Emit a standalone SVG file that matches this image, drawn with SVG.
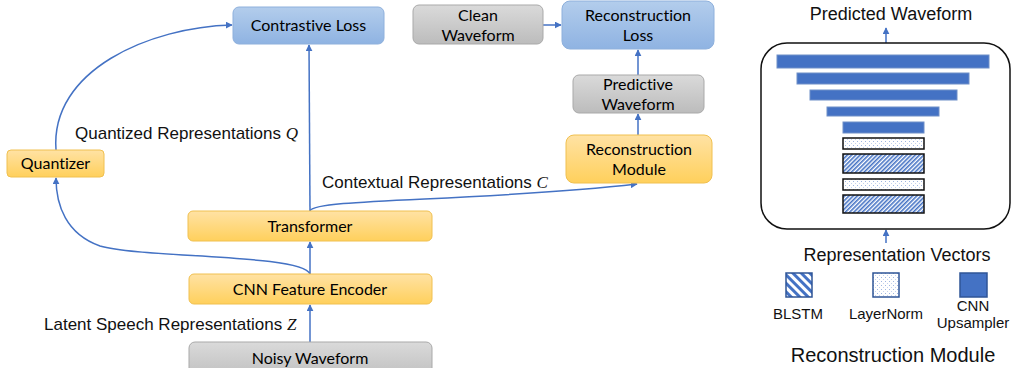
<svg xmlns="http://www.w3.org/2000/svg" width="1011" height="368" viewBox="0 0 1011 368">
<defs>
<linearGradient id="gBlue" x1="0" y1="0" x2="0" y2="1"><stop offset="0" stop-color="#b3cdec"/><stop offset="1" stop-color="#8fb3e2"/></linearGradient>
<linearGradient id="gGray" x1="0" y1="0" x2="0" y2="1"><stop offset="0" stop-color="#dadada"/><stop offset="1" stop-color="#bcbcbc"/></linearGradient>
<linearGradient id="gOrange" x1="0" y1="0" x2="0" y2="1"><stop offset="0" stop-color="#ffe2a4"/><stop offset="1" stop-color="#ffd05c"/></linearGradient>
<pattern id="hatchFine" patternUnits="userSpaceOnUse" width="3" height="3" patternTransform="rotate(45)"><rect width="3" height="3" fill="#ffffff"/><rect width="1.6" height="3" fill="#4472c4"/></pattern>
<pattern id="hatchWide" patternUnits="userSpaceOnUse" width="6" height="6" patternTransform="rotate(-45)"><rect width="6" height="6" fill="#ffffff"/><rect width="3" height="6" fill="#4472c4"/></pattern>
<pattern id="dots" patternUnits="userSpaceOnUse" width="4" height="4"><rect width="4" height="4" fill="#ffffff"/><rect x="1" y="1" width="1" height="1" fill="#9fb6e0"/><rect x="3" y="3" width="1" height="1" fill="#c5d3ee"/></pattern>
<marker id="arr" viewBox="0 0 10 10" refX="9" refY="5" markerWidth="7" markerHeight="7" markerUnits="userSpaceOnUse" orient="auto"><path d="M0,0 L10,5 L0,10 z" fill="#4472c4"/></marker>
</defs>
<style>
.blue{fill:url(#gBlue);stroke:#8eb0dc;stroke-width:1}
.gray{fill:url(#gGray);stroke:#a9a9a9;stroke-width:1}
.orange{fill:url(#gOrange);stroke:#f0c050;stroke-width:1}
.nt{font-family:Lato,"Noto Sans",sans-serif;font-size:16px;fill:#000;text-anchor:middle;font-variant-ligatures:none}
.lbl{font-family:"Liberation Sans",Arial,sans-serif;font-size:17px;fill:#111}
.math{font-family:"Liberation Serif",serif;font-style:italic}
.conn{fill:none;stroke:#4472c4;stroke-width:1.5;marker-end:url(#arr)}
.bar{fill:#4472c4;stroke:#6f8fc8;stroke-width:1}
.pbar{stroke:#111;stroke-width:1.5}
.leg{font-size:15px;text-anchor:middle}
</style>
<rect width="1011" height="368" fill="#ffffff"/>

<g id="connectors">
<path class="conn" d="M310,342 L310,305"/>
<path class="conn" d="M310,274 L310,242"/>
<path class="conn" d="M310,274 C302,254 140,258 100,246 C66,234 56,205 56,178"/>
<path class="conn" d="M56,150 C50,70 150,27 232,25"/>
<path class="conn" d="M310,211 L309,45"/>
<path class="conn" d="M310,211 C314,198 480,202 637,184"/>
<path class="conn" d="M638,135 L638,114"/>
<path class="conn" d="M638,75 L638,50"/>
<path class="conn" d="M543,25 L561,25"/>
<path class="conn" d="M886,43 L886,28"/>
<path class="conn" d="M886,243 L886,230"/>
</g>

<g id="contrastive-loss"><rect class="blue" x="233" y="7" width="151" height="37" rx="6"/><text class="nt" x="308.5" y="31">Contrastive Loss</text></g>
<g id="clean-waveform"><rect class="gray" x="413" y="5" width="130" height="39" rx="6"/><text class="nt" x="478" y="21">Clean</text><text class="nt" x="478" y="41">Waveform</text></g>
<g id="reconstruction-loss"><rect class="blue" x="562" y="1" width="152" height="48" rx="8"/><text class="nt" x="638" y="21">Reconstruction</text><text class="nt" x="638" y="41">Loss</text></g>
<g id="predictive-waveform"><rect class="gray" x="573" y="75" width="131" height="38" rx="6"/><text class="nt" x="638" y="90">Predictive</text><text class="nt" x="638" y="110">Waveform</text></g>
<g id="reconstruction-module"><rect class="orange" x="566" y="135" width="146" height="48" rx="8"/><text class="nt" x="639" y="155">Reconstruction</text><text class="nt" x="639" y="175">Module</text></g>
<g id="quantizer"><rect class="orange" x="7" y="150" width="97" height="27" rx="4"/><text class="nt" x="55.5" y="169">Quantizer</text></g>
<g id="transformer"><rect class="orange" x="188" y="211" width="244" height="30" rx="5"/><text class="nt" x="310" y="232">Transformer</text></g>
<g id="cnn-feature-encoder"><rect class="orange" x="189" y="274" width="243" height="30" rx="5"/><text class="nt" x="310" y="295">CNN Feature Encoder</text></g>
<g id="noisy-waveform"><rect class="gray" x="189" y="342" width="243" height="40" rx="6"/><text class="nt" x="310" y="364">Noisy Waveform</text></g>

<g id="labels">
<text class="lbl" x="75" y="139">Quantized Representations <tspan class="math">Q</tspan></text>
<text class="lbl" x="322" y="188">Contextual Representations <tspan class="math">C</tspan></text>
<text class="lbl" x="44" y="330">Latent Speech Representations <tspan class="math">Z</tspan></text>
</g>

<g id="reconstruction-module-detail">
<text class="lbl" x="891" y="20" text-anchor="middle" style="font-size:18px">Predicted Waveform</text>
<rect x="761" y="43" width="249" height="186" rx="26" fill="#ffffff" stroke="#111" stroke-width="1.5"/>
<rect class="bar" x="777" y="55" width="212" height="13"/>
<rect class="bar" x="797" y="73" width="172" height="11"/>
<rect class="bar" x="810" y="90" width="147" height="10"/>
<rect class="bar" x="827" y="107" width="112" height="9"/>
<rect class="bar" x="843" y="122" width="81" height="11"/>
<rect class="pbar" x="843" y="138" width="81" height="11" fill="url(#dots)"/>
<rect class="pbar" x="843" y="154" width="81" height="19" fill="url(#hatchFine)"/>
<rect class="pbar" x="843" y="179" width="81" height="11" fill="url(#dots)"/>
<rect class="pbar" x="843" y="195" width="81" height="18" fill="url(#hatchFine)"/>
<text class="lbl" x="897" y="261" text-anchor="middle" style="font-size:18px">Representation Vectors</text>
<rect x="786" y="273" width="26" height="24" fill="url(#hatchWide)" stroke="#2f5597" stroke-width="1.5"/>
<rect x="873" y="273" width="26" height="24" fill="url(#dots)" stroke="#2f5597" stroke-width="1.5"/>
<rect x="960" y="273" width="27" height="24" fill="#4472c4" stroke="#2f5597" stroke-width="1.5"/>
<text class="lbl leg" x="798" y="319">BLSTM</text>
<text class="lbl leg" x="886" y="319">LayerNorm</text>
<text class="lbl leg" x="973" y="311">CNN</text>
<text class="lbl leg" x="973" y="328">Upsampler</text>
<text class="lbl" x="893" y="362" text-anchor="middle" style="font-size:20px">Reconstruction Module</text>
</g>
</svg>
